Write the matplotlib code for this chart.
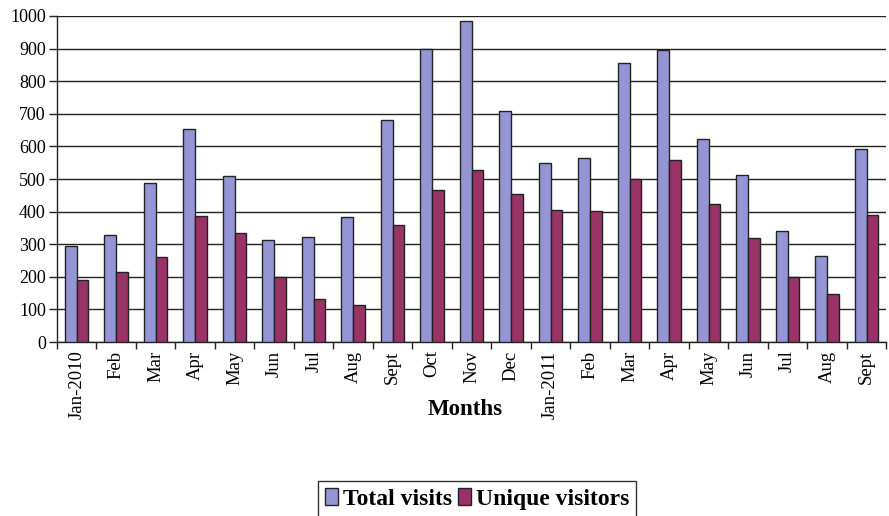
import numpy as np
import matplotlib
matplotlib.use("Agg")
import matplotlib.pyplot as plt

# Monthly site traffic, Jan 2010 - Sept 2011
months = ["Jan-2010", "Feb", "Mar", "Apr", "May", "Jun", "Jul", "Aug", "Sept",
          "Oct", "Nov", "Dec", "Jan-2011", "Feb", "Mar", "Apr", "May", "Jun",
          "Jul", "Aug", "Sept"]
total_visits = [295, 327, 488, 654, 508, 314, 322, 385, 682, 899, 984, 710,
                549, 564, 857, 897, 622, 513, 342, 263, 592]
unique_visitors = [189, 215, 260, 386, 334, 200, 132, 115, 360, 467, 529, 454,
                   406, 401, 501, 559, 422, 320, 199, 148, 391]

plt.rcParams['font.family'] = ['Liberation Serif', 'DejaVu Serif']

fig = plt.figure(figsize=(8.89, 5.16), dpi=100)
ax = fig.add_axes([0.064, 0.337, 0.933, 0.632])

x = np.arange(len(months))
w = 0.3
ax.bar(x - w / 2, total_visits, w, color='#9595d6', edgecolor='#222222',
       linewidth=1, label='Total visits', zorder=3)
ax.bar(x + w / 2, unique_visitors, w, color='#993366', edgecolor='#222222',
       linewidth=1, label='Unique visitors', zorder=3)

ax.set_xlim(-0.5, len(months) - 0.5)
ax.set_ylim(0, 1000)
ax.set_yticks(np.arange(0, 1001, 100))
ax.yaxis.grid(True, color='#222222', linewidth=1)
ax.set_axisbelow(True)

# labels at the centres, tick marks between the months
ax.set_xticks(x)
ax.set_xticklabels(months, rotation=90, fontsize=13.5)
ax.set_xticks(np.arange(-0.5, len(months)), minor=True)
ax.tick_params(axis='x', which='major', length=0, pad=6)
ax.tick_params(axis='x', which='minor', length=5, width=1, color='#222222')
ax.tick_params(axis='y', length=6, width=1, color='#222222', labelsize=13, pad=2)

for side in ['top', 'right']:
    ax.spines[side].set_visible(False)
for side in ['left', 'bottom']:
    ax.spines[side].set_color('#222222')
    ax.spines[side].set_linewidth(1)

ax.set_xlabel('Months', fontsize=16.5, fontweight='bold')
ax.xaxis.set_label_coords(0.492, -0.175)

leg = fig.legend(loc='upper center', bbox_to_anchor=(0.537, 0.068), ncol=2,
                 frameon=True, fancybox=False, edgecolor='black',
                 handlelength=0.55, handleheight=0.75, handletextpad=0.2,
                 columnspacing=0.25, borderpad=0.3, borderaxespad=0,
                 prop={'size': 17, 'weight': 'bold'})
leg.get_frame().set_linewidth(1)

fig.savefig('out.png', dpi=100)
